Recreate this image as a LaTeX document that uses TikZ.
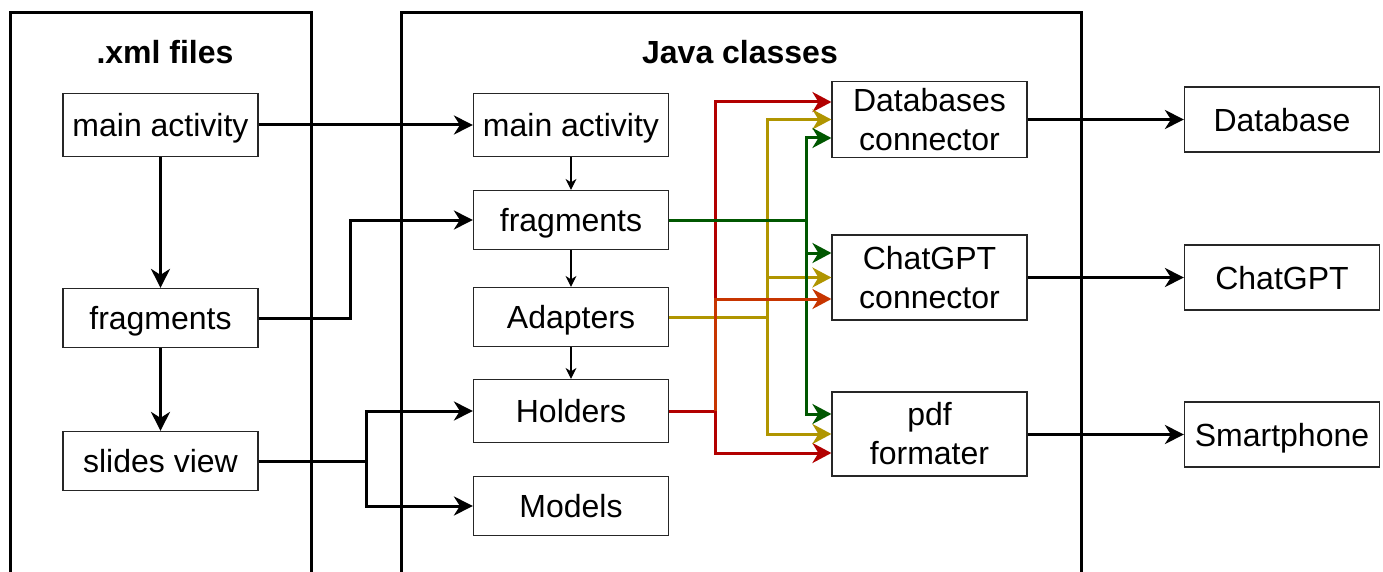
\documentclass[tikz,border=0pt]{standalone}
\usepackage{fontspec}
\setmainfont{Liberation Sans}
\usetikzlibrary{arrows.meta,calc}
\definecolor{cred}{HTML}{B20000}
\definecolor{corange}{HTML}{C73500}
\definecolor{cgold}{HTML}{B09500}
\definecolor{cgreen}{HTML}{005700}
\tikzset{
  box/.style={draw=black!85, line width=1.2pt, minimum width=195pt, minimum height=63pt,
    inner sep=0pt, align=center, font=\fontsize{32}{39}\selectfont},
  sbox/.style={box, text height=23.6pt, text depth=0pt},
  title/.style={font=\fontsize{32}{38}\selectfont\bfseries},
  frame/.style={line width=3pt},
  bigarrow/.style={line width=3pt, -{Stealth[length=19pt,width=19pt,inset=6pt]}},
  thinarrow/.style={line width=1.1pt, -{Stealth[length=11pt,width=11pt,inset=3.5pt]}},
  cline/.style={line width=3pt, -{Stealth[length=19pt,width=20pt,inset=6pt]}},
}
\begin{document}
\begin{tikzpicture}[x=1pt,y=-1pt]
\useasboundingbox (0,0) rectangle (1383,572);
% frames
\draw[frame] (10,580) -- (10,13) -- (311,13) -- (311,580);
\draw[frame] (401,580) -- (401,13) -- (1081,13) -- (1081,580);
\node[title] (t1) at (165,52) {.xml files};
\node[title] (t2) at (740,52) {Java classes};
% xml nodes
\node[sbox] (xmain) at (160.5,125) {main activity};
\node[sbox, minimum height=59pt] (xfrag) at (160.5,318) {fragments};
\node[sbox, minimum height=59pt] (xslide) at (160.5,461) {slides view};
% java nodes
\node[sbox] (jmain) at (571,125) {main activity};
\node[sbox, minimum height=59pt] (jfrag) at (571,220) {fragments};
\node[sbox, minimum height=59pt] (jadapt) at (571,317) {Adapters};
\node[sbox] (jhold) at (571,411) {Holders};
\node[sbox, minimum height=59pt] (jmodel) at (571,506) {Models};
\node[box, minimum height=76pt] (jdb) at (929.5,119.5) {Databases\\connector};
\node[box, minimum height=85pt] (jgpt) at (929.5,277.5) {ChatGPT\\connector};
\node[box, minimum height=84pt] (jpdf) at (929.5,434) {pdf\\formater};
% external nodes
\node[sbox, minimum height=65pt] (edb) at (1282,119.5) {Database};
\node[sbox, minimum height=65pt] (egpt) at (1282,277.5) {ChatGPT};
\node[sbox, minimum height=65pt] (ephone) at (1282,434.5) {Smartphone};
% bend coordinates
\coordinate (b1) at (350,0);
\coordinate (b2) at (366,0);
\coordinate (xr) at (715,0);
\coordinate (xy) at (767,0);
\coordinate (xg) at (806,0);
% black connectors
\draw[bigarrow] (xmain.east) -- (jmain.west);
\draw[bigarrow] (xmain.south) -- (xfrag.north);
\draw[bigarrow] (xfrag.south) -- (xslide.north);
\draw[bigarrow] (xfrag.east) -- (xfrag.east -| b1) |- (jfrag.west);
\draw[bigarrow] (xslide.east) -- (xslide.east -| b2) |- (jhold.west);
\draw[bigarrow] (xslide.east -| b2) |- (jmodel.west);
\draw[thinarrow] (jmain.south) -- (jfrag.north);
\draw[thinarrow] (jfrag.south) -- (jadapt.north);
\draw[thinarrow] (jadapt.south) -- (jhold.north);
\draw[bigarrow] (jdb.east |- edb.west) -- (edb.west);
\draw[bigarrow] (jgpt.east |- egpt.west) -- (egpt.west);
\draw[bigarrow] (jpdf.east |- ephone.west) -- (ephone.west);
% coloured connectors
\draw[cline, cred] (jhold.east) -- (jhold.east -| xr) |- ([yshift=17.5pt]jdb.west);
\draw[cline, cred] (jhold.east -| xr) |- ([yshift=-19pt]jpdf.west);
\draw[cline, cgold] (jadapt.east) -- (jadapt.east -| xy) |- (jdb.west);
\draw[cline, cgold] (jadapt.east -| xy) |- (jgpt.west);
\draw[cline, cgold] (jadapt.east -| xy) |- (jpdf.west);
\draw[cline, cgreen] (jfrag.east) -- (jfrag.east -| xg) |- ([yshift=-18.5pt]jdb.west);
\draw[cline, cgreen] (jfrag.east -| xg) |- ([yshift=24.5pt]jgpt.west);
\draw[cline, cgreen] (jfrag.east -| xg) |- ([yshift=20pt]jpdf.west);
\draw[cline, corange] (jhold.east -| xr) |- ([yshift=-21.5pt]jgpt.west);
\end{tikzpicture}
\end{document}
